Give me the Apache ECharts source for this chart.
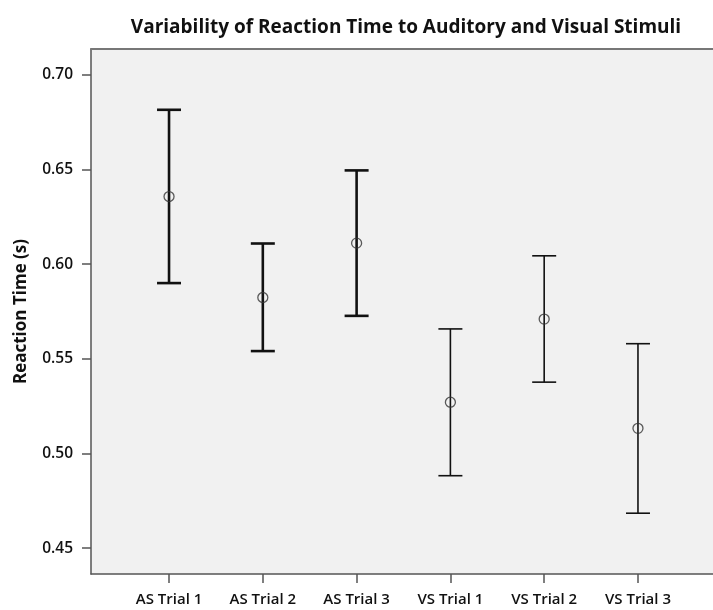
<!DOCTYPE html>
<html>
<head>
<meta charset="utf-8">
<script src="https://cdn.jsdelivr.net/npm/echarts@6/dist/echarts.min.js"></script>
<style>
  html, body { margin: 0; padding: 0; background: #fff; overflow: hidden; }
  #chart { width: 713px; height: 610px; }
</style>
</head>
<body>
<div id="chart"></div>
<script>
// trials on the x axis
const categories = ['AS Trial 1', 'AS Trial 2', 'AS Trial 3', 'VS Trial 1', 'VS Trial 2', 'VS Trial 3'];
// mean reaction time (s)
const means = [0.6357, 0.5824, 0.6111, 0.5271, 0.5710, 0.5133];
// error bar ends
const upper = [0.6815, 0.6109, 0.6495, 0.5658, 0.6044, 0.5580];
const lower = [0.5900, 0.5541, 0.5727, 0.4883, 0.5377, 0.4685];
const yTicks = [0.45, 0.50, 0.55, 0.60, 0.65, 0.70];
const xTicks = [0, 1, 2, 3, 4, 5];

const font = 'Open Sans';
const chart = echarts.init(document.getElementById('chart'));

const barData = categories.map((c, i) => [i, lower[i], upper[i]]);
const meanData = categories.map((c, i) => [i, means[i]]);

const option = {
  animation: false,
  title: {
    text: 'Variability of Reaction Time to Auditory and Visual Stimuli',
    left: 401,
    textAlign: 'center',
    top: 13,
    textStyle: { fontFamily: font, fontSize: 19, fontWeight: 'bold', color: '#111' }
  },
  grid: {
    left: 91,
    right: -3,
    top: 49,
    bottom: 36,
    outerBoundsMode: 'none',
    show: true,
    backgroundColor: '#f1f1f1',
    borderWidth: 0
  },
  xAxis: [
    {
      type: 'value',
      min: -0.832,
      max: 5.832,
      splitLine: { show: false },
      axisLine: { onZero: false, lineStyle: { color: '#555', width: 1.5 } },
      axisTick: { show: true, customValues: xTicks, length: 9, lineStyle: { color: '#555', width: 1.5 } },
      axisLabel: {
        customValues: xTicks,
        formatter: v => categories[Math.round(v)],
        margin: 18,
        fontFamily: font,
        fontSize: 15,
        fontWeight: 600,
        color: '#111'
      }
    },
    {
      // top frame line only
      type: 'value',
      position: 'top',
      min: -0.832,
      max: 5.832,
      splitLine: { show: false },
      axisLine: { show: true, onZero: false, lineStyle: { color: '#777', width: 2 } },
      axisTick: { show: false },
      axisLabel: { show: false }
    }
  ],
  yAxis: {
    type: 'value',
    min: 0.4364,
    max: 0.7136,
    name: 'Reaction Time (s)',
    nameLocation: 'middle',
    nameGap: 61,
    nameTextStyle: { fontFamily: font, fontSize: 17, fontWeight: 'bold', color: '#111' },
    splitLine: { show: false },
    axisLine: { show: true, onZero: false, lineStyle: { color: '#555', width: 1.5 } },
    axisTick: { show: true, customValues: yTicks, length: 9, lineStyle: { color: '#555', width: 1.5 } },
    axisLabel: {
      customValues: yTicks,
      formatter: v => v.toFixed(2),
      margin: 18,
      fontFamily: font,
      fontSize: 15.5,
      fontWeight: 600,
      color: '#111'
    }
  },
  series: [
    {
      type: 'custom',
      data: barData,
      renderItem: function (params, api) {
        const i = api.value(0);
        const top = api.coord([i, api.value(2)]);
        const bot = api.coord([i, api.value(1)]);
        const half = 12;
        const w = i < 3 ? 2.6 : 1.6;
        const style = { stroke: '#111', lineWidth: w };
        return {
          type: 'group',
          children: [
            { type: 'line', shape: { x1: top[0], y1: top[1], x2: bot[0], y2: bot[1] }, style: style },
            { type: 'line', shape: { x1: top[0] - half, y1: top[1], x2: top[0] + half, y2: top[1] }, style: style },
            { type: 'line', shape: { x1: bot[0] - half, y1: bot[1], x2: bot[0] + half, y2: bot[1] }, style: style }
          ]
        };
      },
      z: 2
    },
    {
      type: 'scatter',
      data: meanData,
      symbol: 'circle',
      symbolSize: 10,
      itemStyle: { color: 'rgba(0,0,0,0)', borderColor: '#333', borderWidth: 1.3 },
      z: 3
    }
  ]
};

chart.setOption(option);
</script>
</body>
</html>
